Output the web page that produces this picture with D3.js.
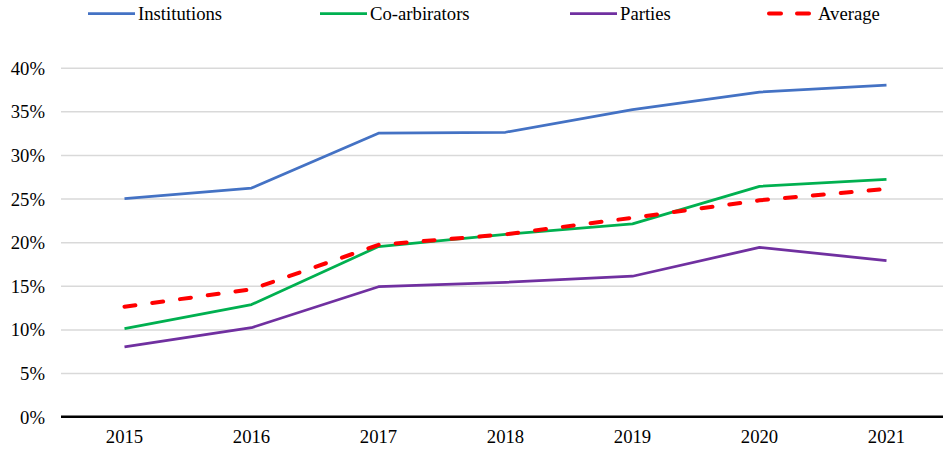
<!DOCTYPE html>
<html><head><meta charset="utf-8">
<script src="https://cdn.jsdelivr.net/npm/d3@7"></script>
<style>body{margin:0;background:#fff}svg{display:block}</style>
</head><body><svg id="c" width="943" height="450"></svg>
<script>
const years = ["2015","2016","2017","2018","2019","2020","2021"];
const institutions = [25.0, 26.2, 32.5, 32.6, 35.2, 37.2, 38.0];
const coArbitrators = [10.1, 12.85, 19.5, 20.9, 22.1, 26.4, 27.2];
const parties = [8.0, 10.2, 14.9, 15.4, 16.1, 19.4, 17.9];
const average = [12.6, 14.6, 19.7, 20.9, 22.8, 24.8, 26.1];
const yTicks = [0,5,10,15,20,25,30,35,40];
const seriesNames = ["Institutions","Co-arbirators","Parties","Average"];
const seriesColors = ["#4472C4","#00B050","#7030A0","#FF0000"];
const FONT = "'Liberation Serif', 'Times New Roman', Times, serif";

const series = [
  {name: seriesNames[0], values: institutions, color: seriesColors[0], dash: null},
  {name: seriesNames[1], values: coArbitrators, color: seriesColors[1], dash: null},
  {name: seriesNames[2], values: parties, color: seriesColors[2], dash: null},
  {name: seriesNames[3], values: average, color: seriesColors[3], dash: "11,17"}
];

const svg = d3.select("#c");
const x = d3.scaleBand().domain(years).range([61, 950]);
const y = d3.scaleLinear().domain([0, 40]).range([416.7, 67.7]);

// gridlines
const grid = svg.append("g").attr("transform","translate(61,0)")
  .call(d3.axisLeft(y).tickValues(yTicks.slice(1)).tickSize(-(943-61)).tickFormat(""));
grid.select(".domain").remove();
grid.selectAll("line").attr("stroke","#d9d9d9").attr("stroke-width",1.5);

// y labels
const yAx = svg.append("g").attr("transform","translate(45,0)")
  .call(d3.axisLeft(y).tickValues(yTicks).tickSize(0).tickPadding(0).tickFormat(d => d + "%"));
yAx.select(".domain").remove();
yAx.attr("font-family", null).attr("font-size", null);
yAx.selectAll("text").style("font-size","18.7px").style("font-family",FONT).style("fill","#000").attr("dy","0.35em");

// x axis
const xAx = svg.append("g").attr("transform","translate(0,416.7)")
  .call(d3.axisBottom(x).tickSize(0).tickPadding(13));
xAx.select(".domain").remove();
xAx.attr("font-family", null).attr("font-size", null);
xAx.selectAll("text").style("font-size","18.7px").style("font-family",FONT).style("fill","#000");
svg.append("line").attr("x1",61).attr("x2",943).attr("y1",416.7).attr("y2",416.7)
  .attr("stroke","#000").attr("stroke-width",2.5);

// lines
const line = d3.line().x((d,i) => x(years[i]) + x.bandwidth()/2).y(d => y(d));
series.forEach(s => {
  svg.append("path").datum(s.values)
    .attr("d", line).attr("fill","none")
    .attr("stroke", s.color)
    .attr("stroke-width", s.dash ? 4 : 2.75)
    .attr("stroke-linejoin","round")
    .attr("stroke-linecap", s.dash ? "round" : "butt")
    .attr("stroke-dasharray", s.dash);
});

// legend
const legendX = [88, 320, 570, 767];
const lg = svg.append("g");
series.forEach((s,i) => {
  const g = lg.append("g").attr("transform", `translate(${legendX[i]},13.5)`);
  if (s.dash) {
    g.append("line").attr("x1",2).attr("x2",44).attr("y1",0).attr("y2",0)
      .attr("stroke",s.color).attr("stroke-width",4).attr("stroke-linecap","round")
      .attr("stroke-dasharray","12,16");
  } else {
    g.append("line").attr("x1",0).attr("x2",47).attr("y1",0).attr("y2",0)
      .attr("stroke",s.color).attr("stroke-width",2.75);
  }
  g.append("text").attr("x", s.dash ? 51 : 50).attr("y",0).attr("dy","0.35em")
    .style("font-size","18.7px").style("font-family",FONT).style("fill","#000").text(s.name);
});
</script></body></html>
